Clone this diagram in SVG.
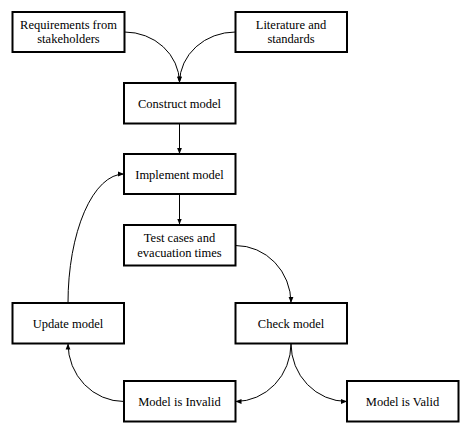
<svg xmlns="http://www.w3.org/2000/svg" width="474" height="435" viewBox="0 0 474 435">
<defs>
<marker id="ah" viewBox="0 0 10 10" refX="10" refY="5" markerWidth="6" markerHeight="6" markerUnits="userSpaceOnUse" orient="auto">
<path d="M0,1 L10,5 L0,9 Z" fill="#000"/>
</marker>
<style>
.box{fill:#fff;stroke:#000;stroke-width:2}
.t{font-family:'Liberation Serif','Times New Roman',serif;font-size:12.5px;fill:#000;text-anchor:middle}
.c{fill:none;stroke:#000;stroke-width:1;marker-end:url(#ah)}
</style>
</defs>
<rect width="474" height="435" fill="#fff"/>
<g id="connectors">
<path class="c" d="M124.5,32 A55,51 0 0 1 179.5,82.5"/>
<path class="c" d="M235.5,32 A56,51 0 0 0 179.5,82.5"/>
<path class="c" d="M179.5,123.5 L179.5,154"/>
<path class="c" d="M179.5,194.5 L179.5,224.5"/>
<path class="c" d="M235.5,245.5 A55.5,57.5 0 0 1 291,303"/>
<path class="c" d="M291,343.5 A55.5,58 0 0 1 235.5,401.5"/>
<path class="c" d="M291,343.5 A56,58 0 0 0 347,401.5"/>
<path class="c" d="M124,401.5 A56,58 0 0 1 68,343.5"/>
<path class="c" d="M68,303 A56,129 0 0 1 124,174"/>
</g>
<g id="n-req"><rect class="box" x="12.5" y="12" width="112" height="40"/><text class="t" x="68.5" y="28.5">Requirements from</text><text class="t" x="68.5" y="42.5">stakeholders</text></g>
<g id="n-lit"><rect class="box" x="235.5" y="12" width="111.5" height="40"/><text class="t" x="291" y="28.5">Literature and</text><text class="t" x="291" y="42.5">standards</text></g>
<g id="n-construct"><rect class="box" x="124" y="83" width="111.5" height="40.5"/><text class="t" x="179.5" y="107.5">Construct model</text></g>
<g id="n-implement"><rect class="box" x="124" y="154" width="111.5" height="40"/><text class="t" x="179.5" y="178.5">Implement model</text></g>
<g id="n-test"><rect class="box" x="124" y="225" width="111.5" height="40.5"/><text class="t" x="179.5" y="242">Test cases and</text><text class="t" x="179.5" y="256.5">evacuation times</text></g>
<g id="n-update"><rect class="box" x="12.5" y="303" width="111.5" height="40.5"/><text class="t" x="68" y="327.5">Update model</text></g>
<g id="n-check"><rect class="box" x="235.5" y="303" width="111.5" height="40.5"/><text class="t" x="291" y="327.5">Check model</text></g>
<g id="n-invalid"><rect class="box" x="124" y="381" width="111.5" height="40.5"/><text class="t" x="179.5" y="405.5">Model is Invalid</text></g>
<g id="n-valid"><rect class="box" x="347" y="381" width="111.5" height="40.5"/><text class="t" x="402.5" y="405.5">Model is Valid</text></g>
</svg>
